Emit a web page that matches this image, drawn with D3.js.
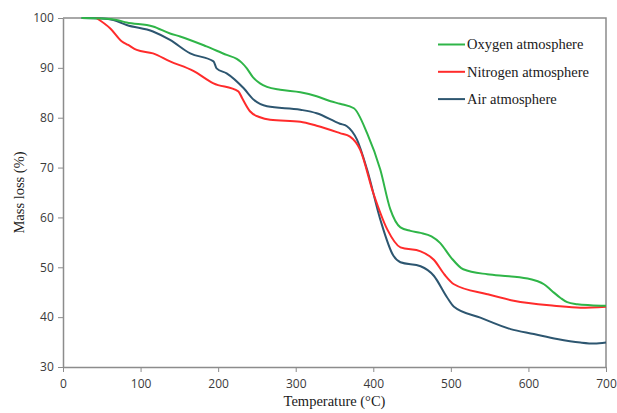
<!DOCTYPE html>
<html>
<head>
<meta charset="utf-8">
<script src="https://cdn.jsdelivr.net/npm/d3@7"></script>
<style>
  body { margin: 0; background: #fff; }
  svg { display: block; }
</style>
</head>
<body>
<svg id="tga"></svg>
<script>
// temperature (°C) / mass (%) pairs
const oxygenT = [24, 50, 69, 82, 116, 138, 151, 185, 211, 224, 230, 237, 245, 254, 263, 280, 306, 327, 345, 357, 375, 392, 409, 422, 435, 448, 461, 475, 486, 500, 516, 547, 575, 603, 612, 620, 630, 641, 650, 663, 680, 700];
const oxygenM = [100, 99.9, 99.6, 99.1, 98.3, 96.9, 96.3, 94.3, 92.6, 91.8, 91.1, 89.9, 88.1, 86.9, 86.2, 85.6, 85.1, 84.3, 83.3, 82.8, 81.9, 76.9, 69.6, 61.6, 58, 57.3, 56.9, 56.2, 54.9, 52, 49.6, 48.6, 48.2, 47.6, 47.2, 46.6, 45.3, 43.9, 43, 42.6, 42.4, 42.3];

const nitrogenT = [43, 61, 76, 84, 95, 116, 138, 168, 194, 226, 231, 241, 254, 267, 306, 327, 357, 370, 383, 400, 418, 435, 461, 478, 492, 504, 547, 581, 633, 667, 700];
const nitrogenM = [100, 97.9, 95.3, 94.6, 93.6, 92.9, 91.3, 89.4, 86.9, 85.3, 83.9, 81.3, 80.1, 79.6, 79.2, 78.4, 76.9, 76.2, 73.6, 64.9, 57.6, 54, 53.2, 51.5, 48.5, 46.6, 44.6, 43.3, 42.3, 41.9, 42.1];

const airT = [24, 50, 65, 82, 116, 138, 164, 194, 198, 211, 233, 246, 263, 306, 327, 357, 366, 379, 392, 409, 426, 435, 461, 478, 495, 504, 538, 577, 607, 637, 667, 685, 700];
const airM = [100, 99.9, 99.6, 98.6, 97.3, 95.6, 92.9, 91.3, 89.9, 88.9, 85.9, 83.6, 82.3, 81.6, 80.9, 78.8, 78.3, 75.6, 69.6, 59.6, 52.3, 51, 50.2, 48.3, 44, 42.1, 39.9, 37.6, 36.6, 35.6, 34.9, 34.7, 34.9];

const seriesNames = ['Oxygen atmosphere', 'Nitrogen atmosphere', 'Air atmosphere'];
const seriesColors = ['#2fb548', '#ff2b2b', '#2d5670'];
const xTicks = [0, 100, 200, 300, 400, 500, 600, 700];
const yTicks = [30, 40, 50, 60, 70, 80, 90, 100];

const W = 617, H = 413;
const plotLeft = 63, plotRight = 606, plotTop = 18, plotBottom = 367;

const svg = d3.select('svg#tga')
  .attr('width', W)
  .attr('height', H);

const x = d3.scaleLinear().domain([0, 700]).range([plotLeft, plotRight]);
const y = d3.scaleLinear().domain([30, 100]).range([plotBottom, plotTop]);

// frame on top and right
svg.append('path')
  .attr('d', `M${plotLeft},${plotTop}H${plotRight}V${plotBottom}`)
  .attr('fill', 'none')
  .attr('stroke', '#8c8c8c')
  .attr('stroke-width', 1.5);

const xAxis = svg.append('g')
  .attr('transform', `translate(0, ${plotBottom})`)
  .call(d3.axisBottom(x).tickValues(xTicks).tickSize(5).tickSizeOuter(0));

const yAxis = svg.append('g')
  .attr('transform', `translate(${plotLeft}, 0)`)
  .call(d3.axisLeft(y).tickValues(yTicks).tickSize(5).tickSizeOuter(0));

[xAxis, yAxis].forEach(a => {
  a.select('.domain').attr('stroke', '#8c8c8c').attr('stroke-width', 1.5);
  a.selectAll('.tick line').attr('stroke', '#8c8c8c').attr('stroke-width', 1);
  a.selectAll('.tick text')
    .attr('fill', '#3a3a3a')
    .style('font-family', '"Open Sans", sans-serif')
    .style('font-size', '12px');
});
xAxis.selectAll('.tick text').attr('dy', '1.05em');
yAxis.selectAll('.tick text').attr('dx', '-0.1em');

const series = [
  { T: oxygenT, M: oxygenM },
  { T: nitrogenT, M: nitrogenM },
  { T: airT, M: airM }
];

const line = d3.line()
  .x(d => x(d[0]))
  .y(d => y(d[1]))
  .curve(d3.curveMonotoneX);

// draw air first, oxygen on top
[2, 1, 0].forEach(i => {
  const s = series[i];
  svg.append('path')
    .datum(s.T.map((t, j) => [t, s.M[j]]))
    .attr('d', line)
    .attr('fill', 'none')
    .attr('stroke', seriesColors[i])
    .attr('stroke-width', 2);
});

// legend
const legend = svg.append('g');
seriesNames.forEach((name, i) => {
  const ly = 44.5 + i * 27.3;
  legend.append('line')
    .attr('x1', 438).attr('x2', 465)
    .attr('y1', ly).attr('y2', ly)
    .attr('stroke', seriesColors[i])
    .attr('stroke-width', 2);
  legend.append('text')
    .attr('x', 467)
    .attr('y', ly + 4.8)
    .attr('fill', '#1a1a1a')
    .style('font-family', '"Liberation Serif", "Times New Roman", serif')
    .style('font-size', '14.5px')
    .text(name);
});

svg.append('text')
  .attr('transform', `translate(24, ${(plotTop + plotBottom) / 2}) rotate(-90)`)
  .attr('text-anchor', 'middle')
  .attr('fill', '#1a1a1a')
  .style('font-family', '"Liberation Serif", "Times New Roman", serif')
  .style('font-size', '14.5px')
  .text('Mass loss (%)');

svg.append('text')
  .attr('x', (plotLeft + plotRight) / 2)
  .attr('y', 406)
  .attr('text-anchor', 'middle')
  .attr('fill', '#1a1a1a')
  .style('font-family', '"Liberation Serif", "Times New Roman", serif')
  .style('font-size', '14.5px')
  .text('Temperature (°C)');
</script>
</body>
</html>
